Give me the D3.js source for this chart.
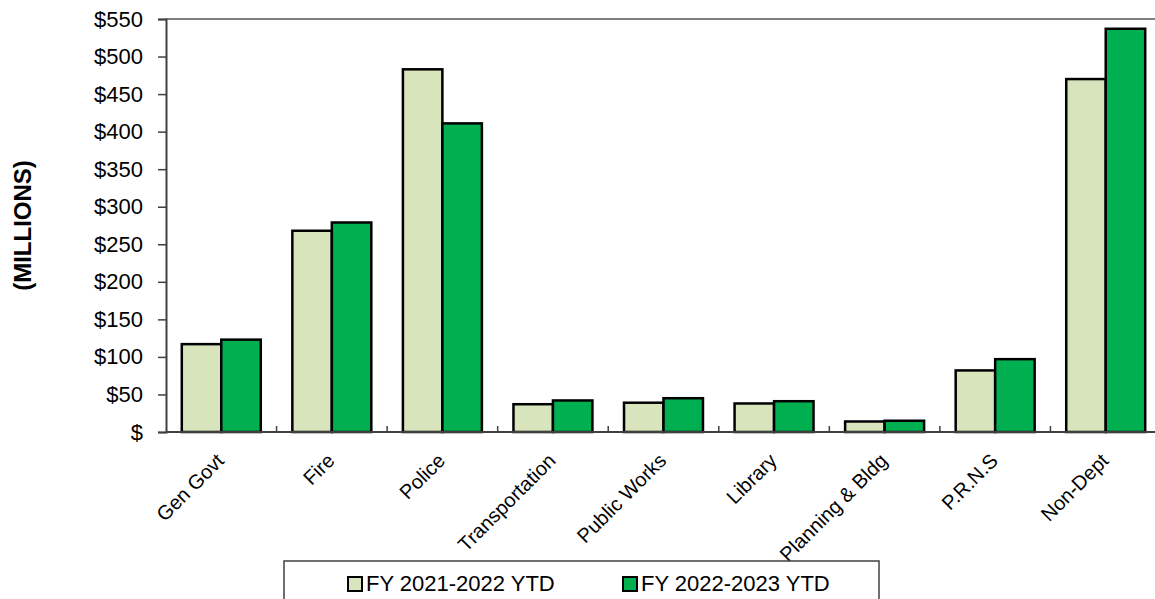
<!DOCTYPE html>
<html>
<head>
<meta charset="utf-8">
<script src="https://cdn.jsdelivr.net/npm/d3@7"></script>
<style>
  body { margin: 0; background: #fff; }
  svg { font-family: 'Liberation Sans', Arial, sans-serif; }
</style>
</head>
<body>
<div id="chart"></div>
<script>
const categories = ['Gen Govt', 'Fire', 'Police', 'Transportation', 'Public Works', 'Library', 'Planning & Bldg', 'P.R.N.S', 'Non-Dept'];
const seriesNames = ['FY 2021-2022 YTD', 'FY 2022-2023 YTD'];
const fy2122 = [117, 268, 483, 37, 39, 38, 14, 82, 470];
const fy2223 = [123, 279, 411, 42, 45, 41, 15, 97, 537];
const yTicks = [0, 50, 100, 150, 200, 250, 300, 350, 400, 450, 500, 550];

const colors = ['#d8e4bc', '#00b050'];
const width = 1155;
const height = 599;
const margin = { left: 166, right: -6, top: 19, bottom: 167 };

const svg = d3.select('#chart')
  .append('svg')
  .attr('width', width)
  .attr('height', height);

const x = d3.scaleBand()
  .domain(categories)
  .range([margin.left, width - margin.right]);

const xInner = d3.scaleBand()
  .domain(seriesNames)
  .range([0, x.bandwidth()])
  .paddingOuter(0.4);

const y = d3.scaleLinear()
  .domain([0, 550])
  .range([height - margin.bottom, margin.top]);

// top border of plot area
svg.append('line')
  .attr('x1', margin.left).attr('x2', width)
  .attr('y1', y(550)).attr('y2', y(550))
  .attr('stroke', '#808080').attr('stroke-width', 2);

// y axis
svg.append('g')
  .attr('transform', `translate(${margin.left},0)`)
  .call(d3.axisLeft(y).tickValues(yTicks).tickSize(8).tickPadding(15)
    .tickFormat((d) => d === 0 ? '$' : `$${d}`))
  .call((g) => g.select('.domain').attr('stroke', '#404040').attr('stroke-width', 2))
  .call((g) => g.selectAll('.tick line').attr('stroke', '#404040').attr('stroke-width', 1.5))
  .call((g) => g.selectAll('.tick text').attr('font-size', 22).attr('fill', '#000')
    .attr('font-family', "'Liberation Sans', Arial, sans-serif"));

// axis title
svg.append('text')
  .attr('transform', `translate(31,${(y(0) + y(550)) / 2}) rotate(-90)`)
  .attr('text-anchor', 'middle')
  .attr('font-size', 24)
  .attr('font-weight', 'bold')
  .text('(MILLIONS)');

// bars
const rows = categories.map((c, i) => ({ cat: c, vals: [fy2122[i], fy2223[i]] }));

const groups = svg.selectAll('.cat')
  .data(rows)
  .enter()
  .append('g')
  .attr('class', 'cat')
  .attr('transform', (d) => `translate(${x(d.cat)},0)`);

groups.selectAll('rect')
  .data((d) => d.vals.map((v, i) => ({ key: seriesNames[i], v, i })))
  .enter()
  .append('rect')
  .attr('x', (d) => xInner(d.key))
  .attr('width', xInner.bandwidth())
  .attr('y', (d) => y(d.v))
  .attr('height', (d) => y(0) - y(d.v))
  .attr('fill', (d) => colors[d.i])
  .attr('stroke', '#000')
  .attr('stroke-width', 2.5);

// x axis (ticks between categories, pointing up)
const xAxis = svg.append('g').attr('transform', `translate(0,${y(0)})`);
xAxis.append('line')
  .attr('x1', margin.left).attr('x2', width)
  .attr('stroke', '#404040').attr('stroke-width', 2);
xAxis.selectAll('.sep')
  .data(categories.slice(1))
  .enter()
  .append('line')
  .attr('x1', (d) => x(d)).attr('x2', (d) => x(d))
  .attr('y1', 0).attr('y2', -6)
  .attr('stroke', '#404040').attr('stroke-width', 1.5);

xAxis.selectAll('.lbl')
  .data(categories)
  .enter()
  .append('text')
  .attr('transform', (d) => `translate(${x(d) + x.bandwidth() / 2 + 4},${30}) rotate(-45)`)
  .attr('text-anchor', 'end')
  .attr('font-size', 20)
  .attr('fill', '#000')
  .text((d) => d);

// legend
const legend = svg.append('g');
legend.append('rect')
  .attr('x', 284).attr('y', 561)
  .attr('width', 595).attr('height', 50)
  .attr('fill', '#fff')
  .attr('stroke', '#404040').attr('stroke-width', 1.5);

const legendX = [348, 623];
const items = legend.selectAll('.item')
  .data(seriesNames)
  .enter()
  .append('g')
  .attr('transform', (d, i) => `translate(${legendX[i]},576)`);

items.append('rect')
  .attr('width', 14).attr('height', 14)
  .attr('y', 1)
  .attr('fill', (d, i) => colors[i])
  .attr('stroke', '#000').attr('stroke-width', 2);

items.append('text')
  .attr('x', 18).attr('y', 15)
  .attr('font-size', 22)
  .attr('fill', '#000')
  .text((d) => d);
</script>
</body>
</html>
